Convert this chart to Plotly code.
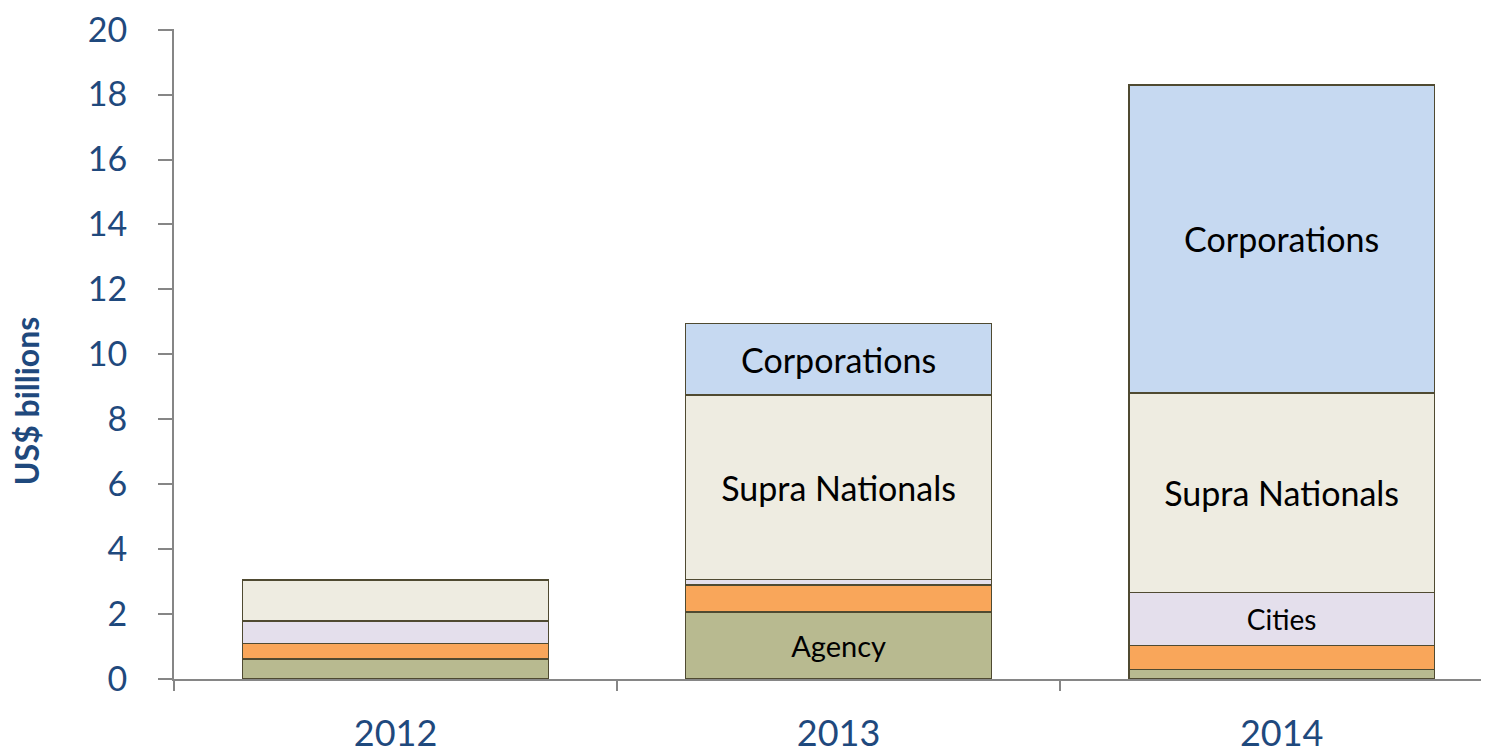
import plotly.graph_objects as go

years = ["2012", "2013", "2014"]
agency = [0.62, 2.06, 0.29]
other = [0.48, 0.84, 0.74]
cities = [0.69, 0.17, 1.63]
supra = [1.26, 5.68, 6.15]
corporations = [0.0, 2.20, 9.49]

agency_txt = ["", "Agency", ""]
other_txt = ["", "", ""]
cities_txt = ["", "", "Cities"]
supra_txt = ["", "Supra Nationals", "Supra Nationals"]
corp_txt = ["", "Corporations", "Corporations"]
y_ticks = [0, 2, 4, 6, 8, 10, 12, 14, 16, 18, 20]

series = [
    ("Agency", agency, agency_txt, "#B8BA90", 29),
    ("Financial Institutions", other, other_txt, "#F9A65A", 28),
    ("Cities", cities, cities_txt, "#E4DFEC", 28),
    ("Supra Nationals", supra, supra_txt, "#EEECE1", 34),
    ("Corporations", corporations, corp_txt, "#C6D9F1", 34),
]

FONT = "Lato, 'Open Sans', sans-serif"
BLUE = "#1F497D"

fig = go.Figure()
for name, vals, txt, color, fs in series:
    fig.add_trace(go.Bar(
        x=years, y=vals, name=name, text=txt,
        textposition="inside", insidetextanchor="middle", textangle=0,
        constraintext="none",
        textfont=dict(family=FONT, size=fs, color="black"),
        marker=dict(color=color, line=dict(color="#4F4A31", width=1.5)),
    ))

fig.update_layout(
    barmode="stack", bargap=0.31, showlegend=False,
    width=1481, height=746,
    margin=dict(l=166, r=0, t=21, b=75),
    plot_bgcolor="white", paper_bgcolor="white",
)
fig.update_xaxes(
    type="category", range=[-0.5, 2.468],
    tickson="boundaries", ticks="outside", ticklen=10, tickwidth=2, tickcolor="#868686",
    showline=True, linecolor="#868686", linewidth=2,
    tickfont=dict(family=FONT, size=36, color=BLUE),
    ticklabelstandoff=22,
    showgrid=False,
)
fig.update_yaxes(
    range=[0, 20.02], tickvals=y_ticks,
    ticks="outside", ticklen=14, tickwidth=2, tickcolor="#868686",
    showline=True, linecolor="#868686", linewidth=2,
    tickfont=dict(family=FONT, size=34, color=BLUE),
    ticklabelstandoff=24, ticklabeloverflow="allow",
    showgrid=False, zeroline=False,
)
fig.add_annotation(
    text="<b>US$ billions</b>", xref="paper", yref="paper",
    x=-0.112, y=0.427, xanchor="center", yanchor="middle", textangle=-90,
    showarrow=False, font=dict(family=FONT, size=32, color=BLUE),
)
fig.write_html("out.html")
